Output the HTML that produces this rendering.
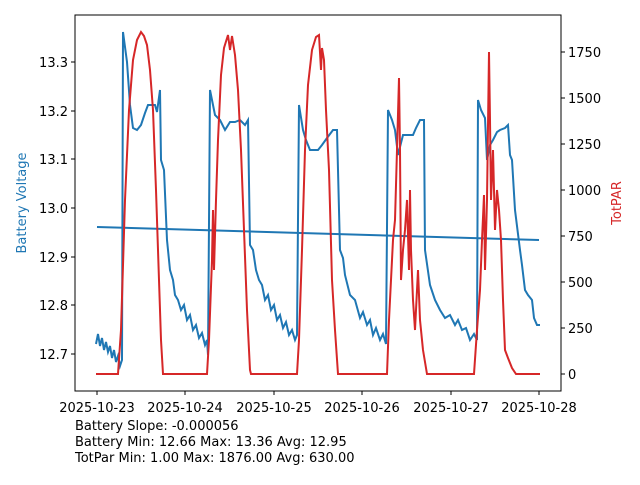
<!DOCTYPE html><html><head><style>body{margin:0;background:#fff}svg text{font-family:"DejaVu Sans","Liberation Sans",sans-serif;font-size:13px;fill:#000}</style></head><body>
<svg width="640" height="480" xmlns="http://www.w3.org/2000/svg">
<g stroke="#000" stroke-width="1"><line x1="97" y1="391" x2="97" y2="395"/><line x1="185" y1="391" x2="185" y2="395"/><line x1="274" y1="391" x2="274" y2="395"/><line x1="362" y1="391" x2="362" y2="395"/><line x1="451" y1="391" x2="451" y2="395"/><line x1="539" y1="391" x2="539" y2="395"/>
<line x1="71" y1="354" x2="75" y2="354"/><line x1="71" y1="305" x2="75" y2="305"/><line x1="71" y1="257" x2="75" y2="257"/><line x1="71" y1="208" x2="75" y2="208"/><line x1="71" y1="159" x2="75" y2="159"/><line x1="71" y1="111" x2="75" y2="111"/><line x1="71" y1="62" x2="75" y2="62"/>
<line x1="561" y1="374" x2="565" y2="374"/><line x1="561" y1="328" x2="565" y2="328"/><line x1="561" y1="282" x2="565" y2="282"/><line x1="561" y1="236" x2="565" y2="236"/><line x1="561" y1="190" x2="565" y2="190"/><line x1="561" y1="144" x2="565" y2="144"/><line x1="561" y1="98" x2="565" y2="98"/><line x1="561" y1="52" x2="565" y2="52"/></g>
<g text-anchor="end"><text x="68" y="359">12.7</text><text x="68" y="310">12.8</text><text x="68" y="262">12.9</text><text x="68" y="213">13.0</text><text x="68" y="164">13.1</text><text x="68" y="116">13.2</text><text x="68" y="67">13.3</text></g>
<g><text x="568" y="379">0</text><text x="568" y="333">250</text><text x="568" y="287">500</text><text x="568" y="241">750</text><text x="568" y="195">1000</text><text x="568" y="149">1250</text><text x="568" y="103">1500</text><text x="568" y="57">1750</text></g>
<g text-anchor="middle"><text x="97" y="412">2025-10-23</text><text x="185" y="412">2025-10-24</text><text x="274" y="412">2025-10-25</text><text x="362" y="412">2025-10-26</text><text x="451" y="412">2025-10-27</text><text x="539" y="412">2025-10-28</text></g>
<text transform="translate(26,203) rotate(-90)" text-anchor="middle" style="fill:#1f77b4">Battery Voltage</text>
<text transform="translate(621,203) rotate(-90)" text-anchor="middle" style="fill:#d62728">TotPAR</text>
<text x="75" y="430">Battery Slope: -0.000056</text><text x="75" y="446">Battery Min: 12.66 Max: 13.36 Avg: 12.95</text><text x="75" y="462">TotPar Min: 1.00 Max: 1876.00 Avg: 630.00</text>
<polyline fill="none" stroke="#1f77b4" stroke-width="2" points="96,344 98,334 100,346 102,338 104,350 106,342 108,352 110,346 112,358 114,350 116,362 118,356 120,366 122,360 123,32 127,62 130,105 133,128 137,130 141,125 145,113 148,105 155,105 157,112 160,90 161,160 164,170 167,240 170,270 173,280 175,295 178,300 181,310 184,305 187,320 190,315 193,330 196,325 199,338 202,333 205,345 207,340 208,355 210,90 213,105 215,115 220,120 225,130 230,122 235,122 240,120 245,125 248,120 250,245 253,250 256,270 259,280 262,285 265,300 268,295 271,310 274,305 277,320 280,315 283,328 286,322 289,335 292,330 295,340 297,335 299,105 303,130 306,140 310,150 318,150 322,145 327,138 333,130 337,130 340,250 343,258 345,275 350,295 355,300 360,318 363,312 367,325 370,320 373,335 376,328 380,340 383,334 386,344 388,110 392,120 395,130 398,155 403,135 410,135 413,135 416,128 420,120 424,120 425,250 430,285 435,300 440,310 445,318 450,315 455,325 458,320 462,330 466,328 470,340 474,334 477,340 478,100 481,110 485,118 487,160 490,145 493,140 497,132 500,130 505,128 508,125 510,155 512,160 515,210 520,250 522,265 525,290 528,295 532,300 534,318 537,325 540,325"/>
<line x1="97" y1="227" x2="539" y2="240" stroke="#1f77b4" stroke-width="2"/>
<polyline fill="none" stroke="#d62728" stroke-width="2" points="96,374 118,374 121,330 125,200 129,110 133,60 137,40 141,32 144,36 147,45 150,70 153,110 156,190 159,280 161,340 163,374 207,374 209,340 212,260 213,210 214,270 216,200 218,140 221,75 224,48 228,35 230,50 232,36 235,55 238,90 241,150 244,230 247,310 250,370 251,374 297,374 299,340 302,250 305,150 308,85 312,50 316,37 319,35 321,70 322,48 324,60 326,110 329,170 332,280 335,330 338,374 387,374 389,320 391,280 393,240 395,220 397,150 399,78 400,150 401,280 403,250 405,230 407,200 409,270 410,190 411,250 413,300 415,330 418,270 420,320 423,350 427,374 474,374 477,330 480,290 482,240 484,195 485,270 487,200 489,52 490,120 491,200 493,150 495,230 497,190 499,210 501,240 503,300 505,350 508,358 512,368 516,374 540,374"/>
<rect x="75" y="15" width="486" height="376" fill="none" stroke="#000" stroke-width="1"/>
</svg></body></html>
